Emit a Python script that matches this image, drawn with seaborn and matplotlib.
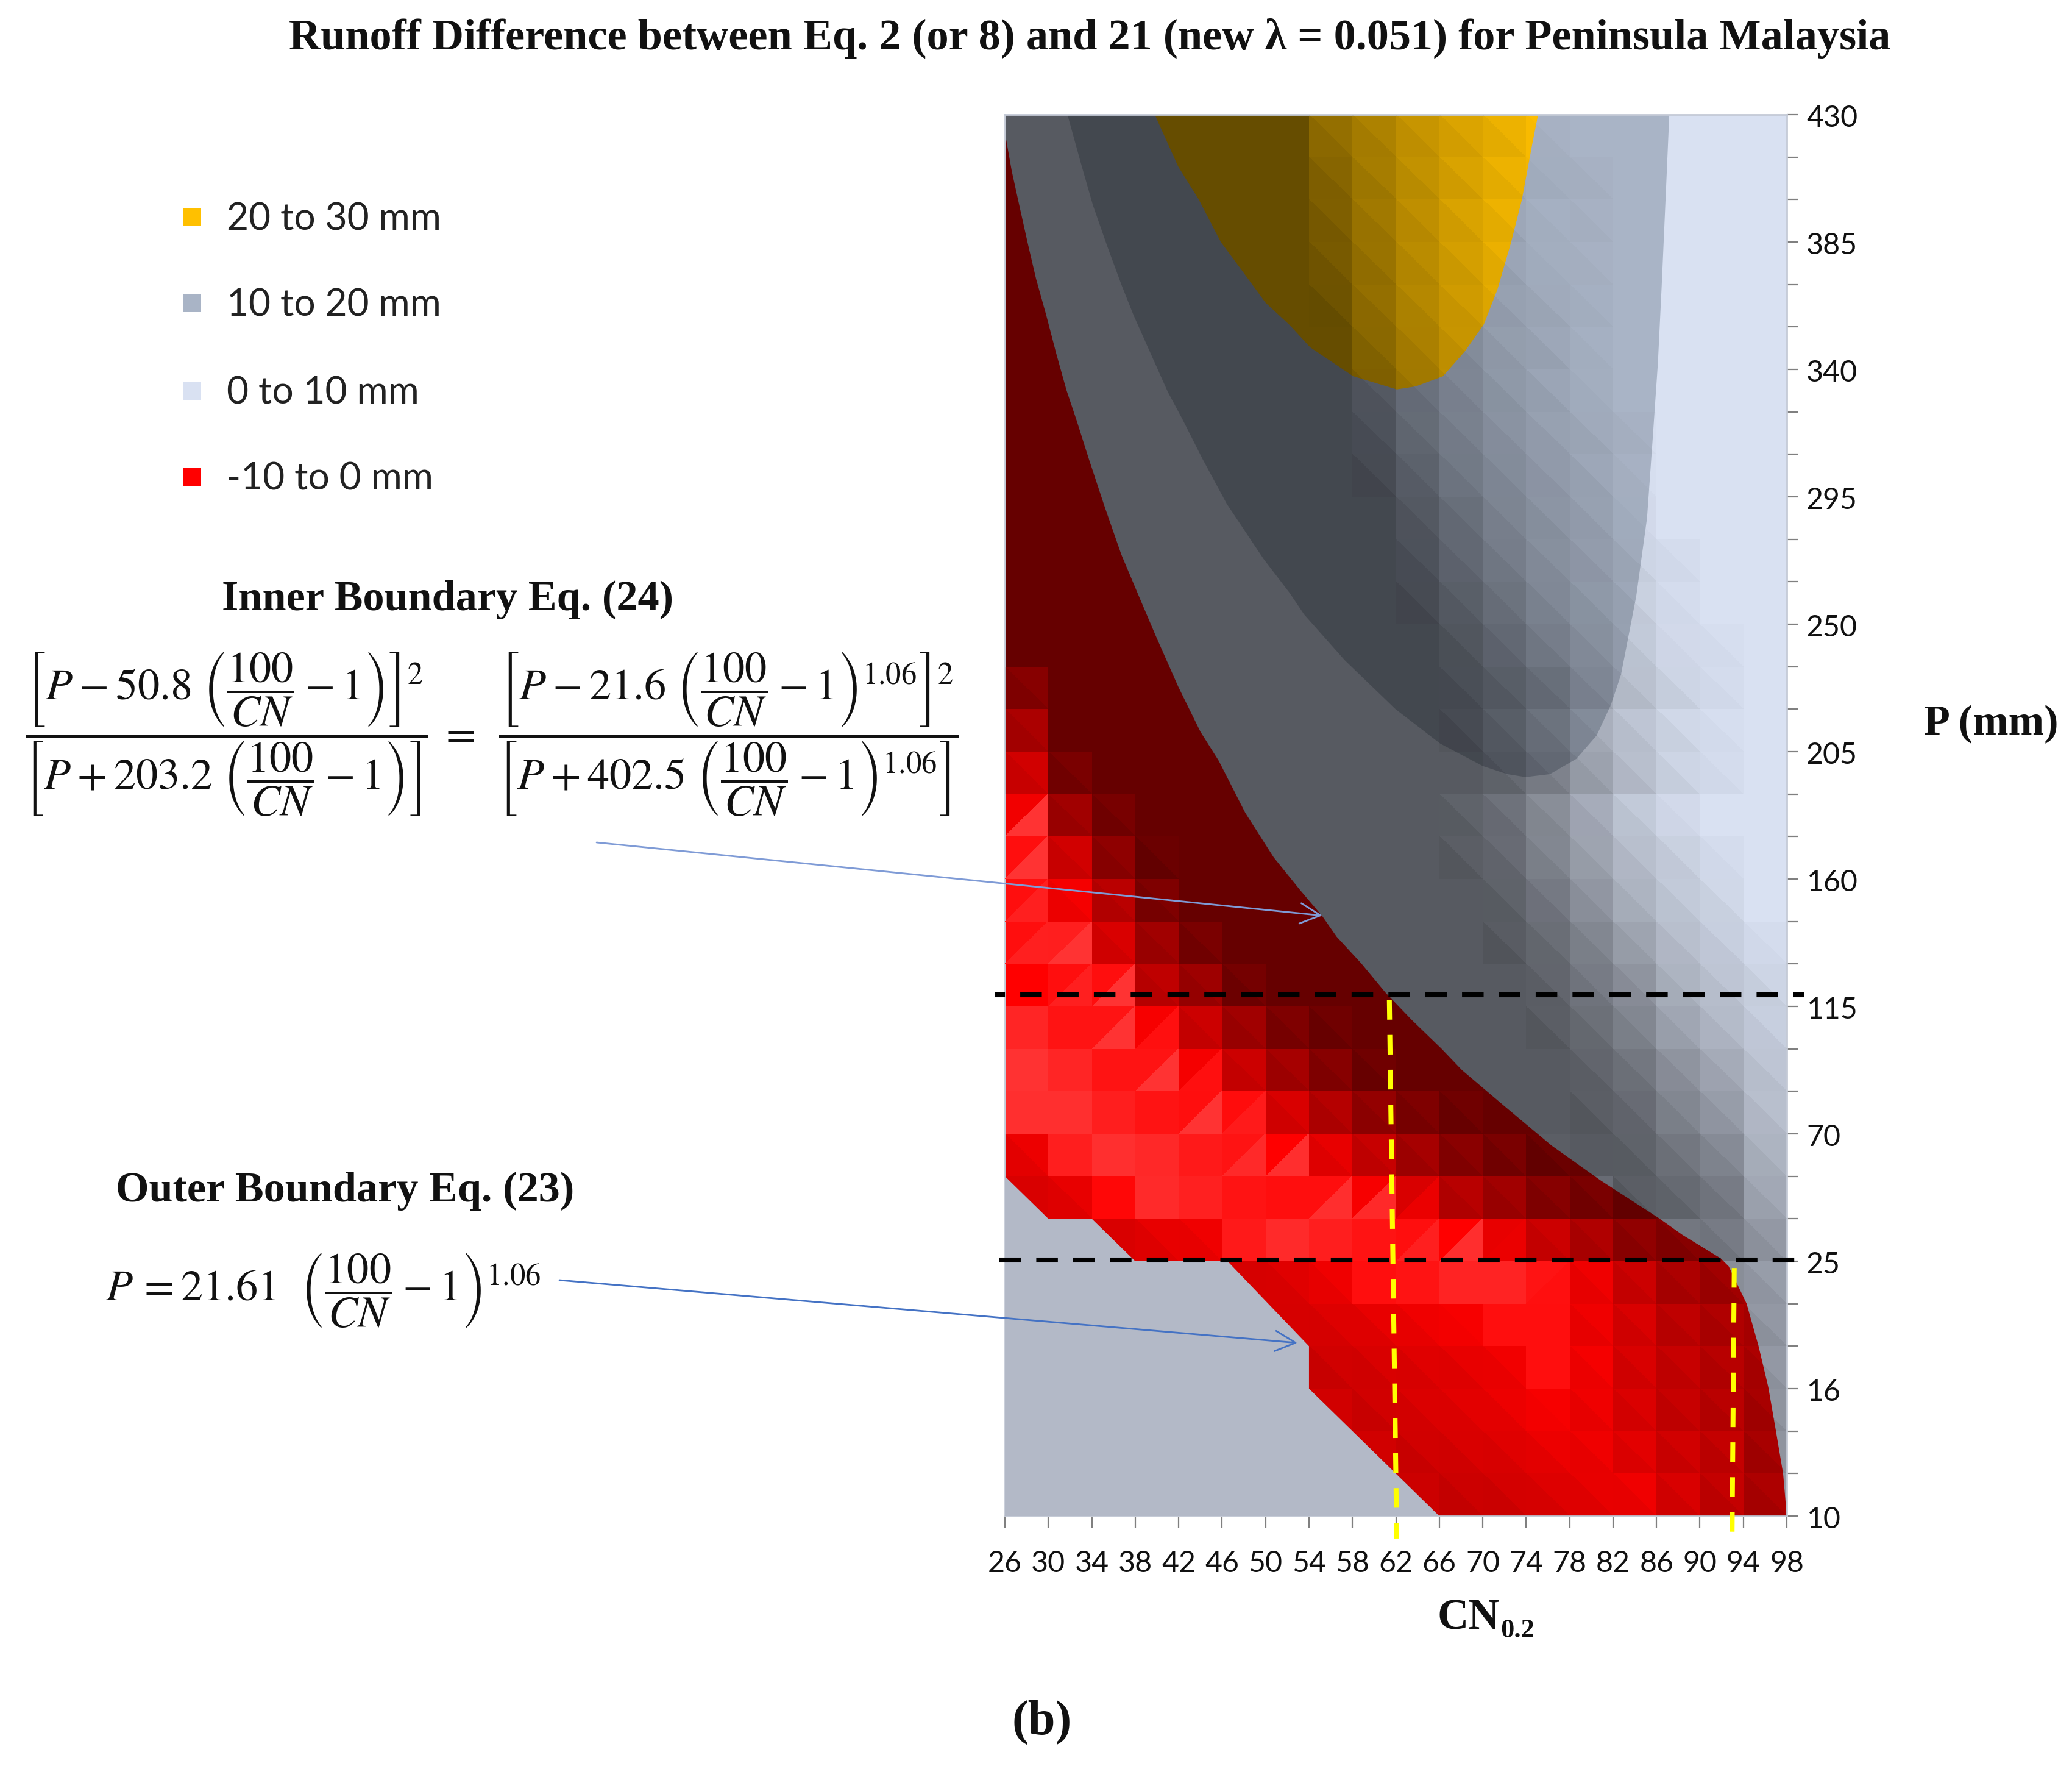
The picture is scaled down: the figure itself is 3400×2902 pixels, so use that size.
import numpy as np
import pandas as pd
import seaborn as sns
import matplotlib.pyplot as plt
from matplotlib.collections import PolyCollection
from matplotlib.colors import ListedColormap, Normalize
from matplotlib.patches import FancyArrowPatch, Rectangle
from matplotlib.transforms import ScaledTranslation

# axis values
CN_TICKS = [26, 30, 34, 38, 42, 46, 50, 54, 58, 62, 66, 70, 74, 78, 82, 86, 90, 94, 98]
P_ROWS = [430, 415, 400, 385, 370, 355, 340, 325, 310, 295, 280, 265, 250, 235, 220, 205, 190,
          175, 160, 145, 130, 115, 100, 85, 70, 55, 40, 25, 22, 19, 16, 14, 12, 10]

LEGEND_LABELS = ['20 to 30 mm', '10 to 20 mm', '0 to 10 mm', '-10 to 0 mm']
LEGEND_COLORS = ['#FFC000', '#A9B4C6', '#D9E1F2', '#FF0000']

# band outlines: CN value, row position (0 = top edge, 33 = bottom edge)
RED_CN = [26, 26.06, 26.62, 27.36, 28.11, 28.86, 29.8, 30.73, 31.67, 32.6, 33.73, 35.22, 36.72, 38.22, 39.9,
          41.96, 44, 45.7, 48.13, 50.75, 53.18, 55.24, 56.55, 58.79, 61.03, 63.47, 66.18, 68.09, 72.1, 76.36,
          80.87, 86.13, 88.39, 91.9, 92.65, 94.3, 95.4, 96.3, 97, 97.66, 98, 26]
RED_ROW = [0.1, 0.51, 1.32, 2.18, 3.04, 3.86, 4.72, 5.63, 6.49, 7.2, 8.11, 9.26, 10.36, 11.27, 12.28,
           13.47, 14.53, 15.22, 16.44, 17.49, 18.26, 18.88, 19.36, 19.98, 20.67, 21.32, 21.99, 22.5, 23.37, 24.28,
           25.1, 25.97, 26.38, 26.93, 27.12, 28, 29, 29.97, 31, 32, 33, 33]

MID_CN = [31.76, 32.98, 34.1, 35.41, 36.72, 37.84, 39.34, 41.02, 42.3, 44.2, 46.44, 49.81, 52.24, 53.55,
          57.3, 61.97, 66.08, 70.01, 72.26, 73.94, 76.19, 78.62, 80.49, 81.8, 82.73, 84.13, 85.13, 85.63,
          86.13, 86.48, 86.88, 87.18]
MID_ROW = [0, 1.13, 2.13, 3.09, 4, 4.72, 5.58, 6.54, 7.15, 8.11, 9.17, 10.46, 11.27, 11.77,
           12.85, 14, 14.81, 15.34, 15.53, 15.6, 15.53, 15.17, 14.62, 13.9, 13.19, 11.35, 9.5, 7.7,
           5.85, 4.03, 1.74, 0]

GOLD_CN = [39.8, 41.95, 43.83, 45.88, 47.94, 50, 52.24, 54.11, 58.07, 62.08, 63.83, 66.34, 68.34, 70.1, 71.35,
           72.6, 73.6, 74.6, 75.1]
GOLD_ROW = [0, 1.22, 1.99, 3, 3.71, 4.43, 4.96, 5.48, 6.16, 6.47, 6.4, 6.16, 5.58, 4.94, 4.12,
            3.02, 2.01, 0.64, 0]

OUTER_CN = [26, 30, 34, 38, 46.5, 54, 54, 62, 66, 26]
OUTER_ROW = [25, 26, 26, 27, 27, 29, 30, 32, 33, 33]

# cell brightness in percent, over 100 means paler than the band colour
SHADE = [
    [40, 40, 40, 40, 40, 40, 40, 58, 68, 78, 86, 93, 99, 100, 100, 100, 100, 100],
    [40, 40, 40, 40, 40, 40, 40, 53, 65, 76, 85, 93, 97, 99, 100, 100, 100, 100],
    [40, 40, 40, 40, 40, 40, 40, 50, 63, 75, 85, 93, 98, 99, 100, 100, 100, 100],
    [40, 40, 40, 40, 40, 40, 40, 47, 60, 73, 83, 92, 97, 99, 100, 100, 100, 100],
    [40, 40, 40, 40, 40, 40, 40, 43, 58, 71, 81, 90, 95, 98, 100, 100, 100, 100],
    [40, 40, 40, 40, 40, 40, 40, 40, 54, 67, 78, 88, 93, 98, 100, 100, 100, 100],
    [40, 40, 40, 40, 40, 40, 40, 40, 50, 63, 75, 85, 92, 97, 100, 100, 100, 100],
    [40, 40, 40, 40, 40, 40, 40, 40, 46, 60, 72, 82, 90, 95, 99, 100, 100, 100],
    [40, 40, 40, 40, 40, 40, 40, 40, 42, 55, 68, 78, 86, 93, 99, 100, 100, 100],
    [40, 40, 40, 40, 40, 40, 40, 40, 40, 50, 62, 74, 83, 90, 97, 100, 100, 100],
    [40, 40, 40, 40, 40, 40, 40, 40, 40, 46, 58, 70, 80, 87, 95, 98, 100, 100],
    [40, 40, 40, 40, 40, 40, 40, 40, 40, 42, 53, 64, 76, 85, 93, 98, 100, 100],
    [40, 40, 40, 40, 40, 40, 40, 40, 40, 40, 48, 58, 70, 80, 90, 97, 99, 100],
    [53, 40, 40, 40, 40, 40, 40, 40, 40, 40, 44, 52, 62, 75, 86, 95, 98, 100],
    [67, 40, 40, 40, 40, 40, 40, 40, 40, 40, 42, 52, 64, 78, 88, 96, 99, 100],
    [82, 48, 40, 40, 40, 40, 40, 40, 40, 40, 40, 47, 58, 72, 85, 95, 98, 100],
    [95, 63, 47, 40, 40, 40, 40, 40, 40, 40, 44, 51, 63, 77, 90, 97, 100, 100],
    [106, 82, 56, 42, 40, 40, 40, 40, 40, 40, 42, 48, 60, 73, 85, 93, 98, 100],
    [106, 96, 73, 50, 40, 40, 40, 40, 40, 40, 40, 44, 54, 67, 80, 90, 96, 100],
    [106, 112, 85, 63, 48, 40, 40, 40, 40, 40, 40, 41, 49, 60, 73, 85, 92, 98],
    [100, 106, 106, 75, 62, 46, 40, 40, 40, 40, 40, 40, 45, 55, 66, 80, 88, 95],
    [115, 108, 108, 97, 80, 63, 50, 44, 40, 40, 40, 40, 42, 50, 60, 74, 83, 92],
    [120, 115, 108, 108, 96, 80, 65, 53, 44, 40, 40, 40, 40, 45, 53, 66, 76, 88],
    [119, 119, 112, 108, 106, 105, 85, 71, 58, 50, 44, 40, 40, 42, 48, 60, 70, 85],
    [93, 112, 119, 116, 110, 108, 100, 91, 78, 65, 54, 48, 42, 40, 44, 53, 62, 80],
    [85, 91, 103, 117, 113, 108, 106, 106, 97, 85, 72, 63, 53, 48, 42, 47, 55, 75],
    [85, 82, 85, 91, 94, 110, 117, 112, 108, 106, 100, 91, 80, 69, 57, 53, 55, 68],
    [85, 85, 85, 85, 85, 84, 88, 94, 106, 108, 114, 114, 108, 94, 80, 68, 63, 70],
    [82, 82, 82, 82, 82, 82, 84, 87, 91, 94, 97, 106, 106, 94, 85, 75, 69, 68],
    [82, 82, 82, 82, 82, 82, 82, 82, 85, 88, 91, 95, 106, 96, 85, 78, 72, 68],
    [82, 82, 82, 82, 82, 82, 82, 82, 82, 86, 89, 93, 97, 94, 86, 78, 73, 66],
    [82, 82, 82, 82, 82, 82, 82, 82, 82, 82, 85, 88, 93, 94, 89, 82, 77, 66],
    [80, 80, 80, 80, 80, 80, 80, 80, 80, 80, 80, 83, 87, 91, 94, 85, 77, 68],
]

# red cells split the other way, with a paler lower right triangle
LIT_ROW = [16, 17, 18, 19, 19, 20, 20, 21, 21, 22, 22, 23, 23, 24, 24, 25, 25, 25, 26, 26, 26, 27]
LIT_COL = [0, 0, 0, 1, 0, 2, 1, 2, 3, 3, 4, 4, 5, 5, 6, 7, 8, 9, 9, 10, 11, 12]
LIT_VAL = [120, 120, 112, 120, 112, 120, 112, 120, 106, 120, 106, 120, 110, 116, 118, 118, 116, 92, 112, 118, 92, 106]

sns.set_theme(style='white')
plt.rcParams['font.family'] = ['Lato', 'DejaVu Sans']
plt.rcParams['mathtext.fontset'] = 'stix'

W, H = 3400, 2902
fig = plt.figure(figsize=(W / 200, H / 200), dpi=200)
ax = fig.add_axes([1649 / W, 1 - 2487 / H, 1283 / W, 2299 / H])


def fx(x, y):
    return x / W, 1 - y / H


def cell_x(cn):
    return (np.asarray(cn) - CN_TICKS[0]) / 4


def lit_colour(v):
    if v >= 100:
        return (1, (v - 100) / 100, (v - 100) / 100)
    return (v / 100, 0, 0)


shades = pd.DataFrame(SHADE, index=P_ROWS[:-1], columns=CN_TICKS[:-1])

# black over the band colour below 100, white above it
levels = np.arange(30, 131)
rgba = np.zeros((len(levels), 4))
rgba[:, :3] = (levels > 100)[:, None]
rgba[:, 3] = np.abs(levels - 100) / 100
shade_cmap = ListedColormap(rgba)

sns.heatmap(shades, ax=ax, cmap=shade_cmap, norm=Normalize(30, 130), cbar=False,
            xticklabels=False, yticklabels=False)
ax.collections[0].set_zorder(2)
ax.set_facecolor('#D9E1F2')

# contour bands under the shading
ax.fill(cell_x(RED_CN), RED_ROW, color='#FF0000', lw=0, zorder=1)
ax.fill(cell_x(MID_CN), MID_ROW, color='#A9B4C6', lw=0, zorder=1)
ax.fill(cell_x(GOLD_CN), GOLD_ROW, color='#FFC000', lw=0, zorder=1)

# lower left triangles a little darker than their cell, split along the falling diagonal
tris, faces = [], []
lit = set(zip(LIT_ROW, LIT_COL))
for r in range(shades.shape[0]):
    for c in range(shades.shape[1]):
        v = SHADE[r][c]
        if (r, c) not in lit and 40 < v < 100:
            tris.append([(c, r), (c, r + 1), (c + 1, r + 1)])
            faces.append((0, 0, 0, (3.5 if v < 97 else 1.5) / v))
ax.add_collection(PolyCollection(tris, facecolors=faces, edgecolors='none', antialiaseds=False, zorder=3))

tris = [[(c + 1, r), (c + 1, r + 1), (c, r + 1)] for r, c in zip(LIT_ROW, LIT_COL)]
ax.add_collection(PolyCollection(tris, facecolors=[lit_colour(v) for v in LIT_VAL], edgecolors='none',
                                 antialiaseds=False, zorder=3))

# flat area below the outer boundary
ax.fill(cell_x(OUTER_CN), OUTER_ROW, color='#B3B9C7', lw=0, zorder=4)

# guide lines
ax.plot([-0.22, 18.39], [20.73, 20.73], color='black', lw=2.9, ls=(2.4, (4.4, 3.1)),
        dash_capstyle='butt', clip_on=False, zorder=6)
ax.plot([-0.13, 18.52], [26.97, 26.97], color='black', lw=2.9, ls=(0, (4.4, 3.1)),
        dash_capstyle='butt', clip_on=False, zorder=6)
ax.plot([8.85, 9.02], [20.85, 33.53], color='#FFFF00', lw=2.9, ls=(0, (4, 3.1)),
        dash_capstyle='butt', clip_on=False, zorder=5)
ax.plot([16.79, 16.74], [27.16, 33.43], color='#FFFF00', lw=2.9, ls=(0, (4, 3.1)),
        dash_capstyle='butt', clip_on=False, zorder=5)

ax.set_xlim(0, 18)
ax.set_ylim(33, 0)
ax.set_xticks(range(len(CN_TICKS)))
ax.set_xticklabels(CN_TICKS, rotation=0, fontsize=17.4, color='#111111')
ax.yaxis.tick_right()
ax.set_yticks(range(len(P_ROWS)))
ax.set_yticklabels([str(p) if i % 3 == 0 else '' for i, p in enumerate(P_ROWS)],
                   rotation=0, fontsize=17.4, color='#111111')
ax.tick_params(axis='x', length=7, width=0.8, color='#808080', pad=13, bottom=True)
ax.tick_params(axis='y', length=6.5, width=0.8, color='#808080', pad=5, right=True)
for label in ax.get_yticklabels():
    label.set_transform(label.get_transform() + ScaledTranslation(0, -2 / 200, fig.dpi_scale_trans))
for side in ax.spines:
    ax.spines[side].set_visible(True)
    ax.spines[side].set_color('#C4CAD6')
    ax.spines[side].set_linewidth(1)
ax.set_xlabel('')
ax.set_ylabel('')

serif = ['Liberation Serif', 'DejaVu Serif']
fig.text(*fx(1788, 63), 'Runoff Difference between Eq. 2 (or 8) and 21 (new λ = 0.051) for Peninsula Malaysia',
         family=serif, weight='bold', fontsize=26, ha='center', va='center', color='#111111')
fig.text(*fx(735, 984), 'Inner Boundary Eq. (24)', family=serif, weight='bold', fontsize=25.3,
         ha='center', va='center', color='#111111')
fig.text(*fx(566, 1954), 'Outer Boundary Eq. (23)', family=serif, weight='bold', fontsize=25.3,
         ha='center', va='center', color='#111111')
fig.text(*fx(3267, 1188), 'P (mm)', family=serif, weight='bold', fontsize=25.3, ha='center', va='center',
         color='#111111')
fig.text(*fx(2410, 2655), 'CN', family=serif, weight='bold', fontsize=25.5, ha='center', va='center',
         color='#111111')
fig.text(*fx(2490, 2675), '0.2', family=serif, weight='bold', fontsize=16, ha='center', va='center',
         color='#111111')
fig.text(*fx(1710, 2825), '(b)', family=serif, weight='bold', fontsize=29, ha='center', va='center',
         color='#111111')

# legend
for y, label, colour in zip([356, 497, 641, 782], LEGEND_LABELS, LEGEND_COLORS):
    fig.add_artist(Rectangle(fx(300, y + 15), 30 / W, 30 / H, transform=fig.transFigure,
                             facecolor=colour, edgecolor='none'))
    fig.text(*fx(372, y + 4), label, fontsize=22.4, va='center', color='#222222')

# equations
fig.text(*fx(372, 1205),
         r'$\dfrac{\left[P-50.8\ \left(\dfrac{100}{CN}-1\right)\right]^{2}}'
         r'{\left[P+203.2\ \left(\dfrac{100}{CN}-1\right)\right]}$',
         fontsize=26, ha='center', va='center', color='#111111')
fig.text(*fx(750, 1205), r'$=$', fontsize=26, ha='center', va='center', color='#111111')
fig.text(*fx(1195, 1205),
         r'$\dfrac{\left[P-21.6\ \left(\dfrac{100}{CN}-1\right)^{1.06}\right]^{2}}'
         r'{\left[P+402.5\ \left(\dfrac{100}{CN}-1\right)^{1.06}\right]}$',
         fontsize=26, ha='center', va='center', color='#111111')
fig.text(*fx(530, 2117), r'$P\,=21.61\ \ \left(\dfrac{100}{CN}-1\right)^{1.06}$',
         fontsize=26, ha='center', va='center', color='#111111')

# arrows to the two boundaries
fig.add_artist(FancyArrowPatch(fx(979, 1382), fx(2170, 1502), transform=fig.transFigure, arrowstyle='->',
                               mutation_scale=30, color='#7F9BD6', lw=1, shrinkA=0, shrinkB=0))
fig.add_artist(FancyArrowPatch(fx(918, 2100), fx(2129, 2203), transform=fig.transFigure, arrowstyle='->',
                               mutation_scale=30, color='#4472C4', lw=1, shrinkA=0, shrinkB=0))

fig.savefig('out.png', dpi=200)
